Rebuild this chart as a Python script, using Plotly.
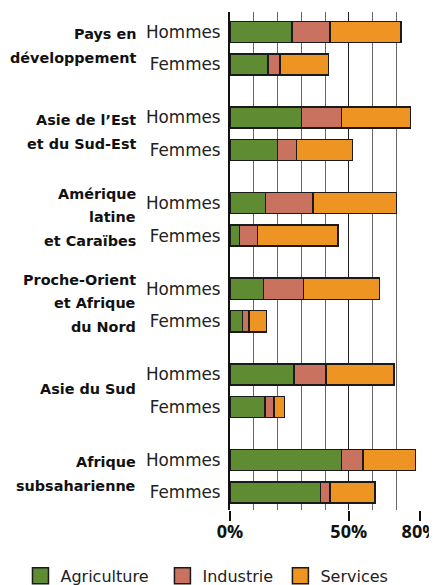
import plotly.graph_objects as go

regions = ["Pays en<br>développement", "Asie de l’Est<br>et du Sud-Est",
           "Amérique<br>latine<br>et Caraïbes", "Proche-Orient<br>et Afrique<br>du Nord",
           "Asie du Sud", "Afrique<br>subsaharienne"]
sexes = ["Hommes", "Femmes"]
sectors = ["Agriculture", "Industrie", "Services"]
colors = ["#5f8c32", "#c8725f", "#ee9422"]

agri_h = [26, 30, 15, 14, 27, 47]
ind_h = [16, 17, 20, 17, 13.5, 9]
serv_h = [30, 29, 35, 32, 28.5, 22]
agri_f = [16, 20, 4, 5.3, 14.7, 38]
ind_f = [5, 8, 7.5, 2.8, 3.8, 4]
serv_f = [20.5, 23.5, 34, 7.2, 4.4, 19]

x_ticks = [0, 50, 80]
x_tick_labels = ["0%", "50%", "80%"]

GROUP_STEP = 2.637
ypos, ytext = [], []
for g in range(len(regions)):
    for s, name in enumerate(sexes):
        ypos.append(g * GROUP_STEP + s)
        ytext.append(name)

series = {
    "Agriculture": [v for pair in zip(agri_h, agri_f) for v in pair],
    "Industrie": [v for pair in zip(ind_h, ind_f) for v in pair],
    "Services": [v for pair in zip(serv_h, serv_f) for v in pair],
}

# the page body adds an 8px offset, so the figure is 8px smaller
W, H = 429, 577
legend_ids = ["legend", "legend2", "legend3"]
legend_x = [0.0291, 0.360, 0.635]
LEG_TOP = 0.0455
LINE_STEP = 23.5

fig = go.Figure()
for name, col, lid in zip(sectors, colors, legend_ids):
    fig.add_trace(go.Bar(
        x=series[name], y=ypos, orientation="h", name=name,
        marker=dict(color=col, line=dict(color="#1a1a1a", width=1.5)),
        width=0.65, showlegend=False, hoverinfo="x+name",
    ))
    fig.add_trace(go.Scatter(
        x=[None], y=[None], mode="markers", name=name, legend=lid,
        marker=dict(symbol="square", size=16, color=col,
                    line=dict(color="#1a1a1a", width=1.5)),
        showlegend=True,
    ))

for g, reg in enumerate(regions):
    lines = reg.split("<br>")
    n = len(lines)
    for i, line in enumerate(lines):
        fig.add_annotation(
            x=0, xref="paper", y=g * GROUP_STEP + 0.5, yref="y",
            text="<b>" + line + "</b>", showarrow=False,
            xanchor="right", yanchor="middle", align="right", xshift=-92,
            yshift=((n - 1) / 2 - i) * LINE_STEP + 2,
            font=dict(family="DejaVu Sans", size=14.4, color="#111"),
        )

legend_common = dict(
    orientation="h", xref="container", yref="container",
    y=LEG_TOP, xanchor="left", yanchor="top",
    font=dict(family="DejaVu Sans", size=16, color="#222"),
    bgcolor="rgba(0,0,0,0)",
)

fig.update_layout(
    width=W, height=H,
    margin=dict(l=222, r=17, t=4, b=75, autoexpand=False),
    barmode="stack",
    plot_bgcolor="white", paper_bgcolor="white",
    xaxis=dict(
        range=[0, 80], tickvals=x_ticks, ticktext=x_tick_labels,
        showgrid=True, gridcolor="#222", gridwidth=1.3,
        ticks="outside", ticklen=10, tickcolor="#111", tickwidth=1.5,
        tickfont=dict(family="Open Sans", size=18, color="#111", weight="bold"),
        ticklabeloverflow="allow", automargin=False, ticklabelstandoff=-5,
        minor=dict(dtick=10, showgrid=True, gridcolor="#666", gridwidth=1.2, ticklen=0),
        zeroline=False, showline=False, fixedrange=True,
    ),
    yaxis=dict(
        range=[5 * GROUP_STEP + 1 + 0.54, -0.615],
        tickvals=ypos, ticktext=ytext, showgrid=False, zeroline=False,
        showline=True, linecolor="#111", linewidth=2,
        ticks="", ticklabelstandoff=4, automargin=False,
        tickfont=dict(family="DejaVu Sans", size=16.8, color="#222"),
        fixedrange=True,
    ),
    legend=dict(x=legend_x[0], **legend_common),
    legend2=dict(x=legend_x[1], **legend_common),
    legend3=dict(x=legend_x[2], **legend_common),
    showlegend=True,
)

fig.write_html("out.html")
